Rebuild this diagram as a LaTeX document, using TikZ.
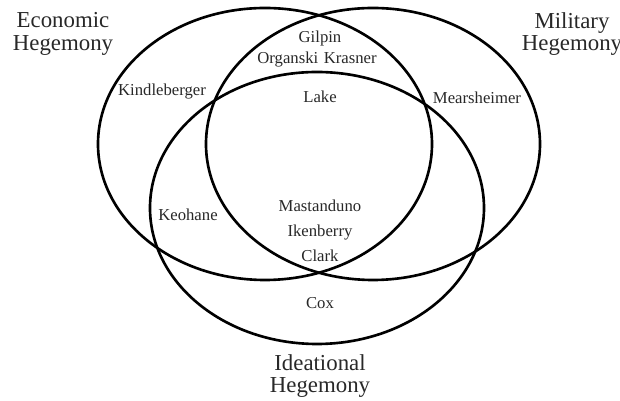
\documentclass[tikz,border=0pt]{standalone}
\usepackage{fontspec}
\setmainfont{Liberation Serif}
\usepackage{tikz}
\usetikzlibrary{positioning}
\definecolor{inkgray}{RGB}{40, 40, 40}
\tikzset{
  scholar/.style={font=\fontsize{9.5}{11}\selectfont, text=inkgray, inner sep=1pt},
  realm/.style={font=\fontsize{13}{13}\selectfont, text=inkgray, align=center, inner sep=1pt},
  ring/.style={line width=1.5pt, black}
}

\begin{document}
\begin{tikzpicture}[x=0.02cm, y=-0.02cm]
  \useasboundingbox (0, 0) rectangle (620, 401);

  % The three hegemonies
  \draw[ring] (265, 144) ellipse [x radius=167, y radius=136];
  \draw[ring] (373, 144) ellipse [x radius=167, y radius=136];
  \draw[ring] (317, 208) ellipse [x radius=167, y radius=136];

  % Titles
  \node[realm] (econ) at (63, 34) {Economic\\Hegemony};
  \node[realm] (mil) at (572, 34) {Military\\Hegemony};
  \node[realm] (idea) at (320, 376) {Ideational\\Hegemony};

  % Scholars
  \node[scholar] (gilpin) at (320, 38) {Gilpin};
  \node[scholar] (organski) at (317, 60) {Organski\,\,Krasner};
  \node[scholar] (lake) at (320, 97) {Lake};
  \node[scholar] (kindle) at (162, 92) {Kindleberger};
  \node[scholar] (mears) at (477, 98) {Mearsheimer};
  \node[scholar] (keohane) at (188, 215) {Keohane};
  \node[scholar] (mastan) at (320, 206) {Mastanduno};
  \node[scholar] (iken) at (320, 233) {Ikenberry};
  \node[scholar] (clark) at (320, 256) {Clark};
  \node[scholar] (cox) at (320, 303) {Cox};
\end{tikzpicture}
\end{document}
